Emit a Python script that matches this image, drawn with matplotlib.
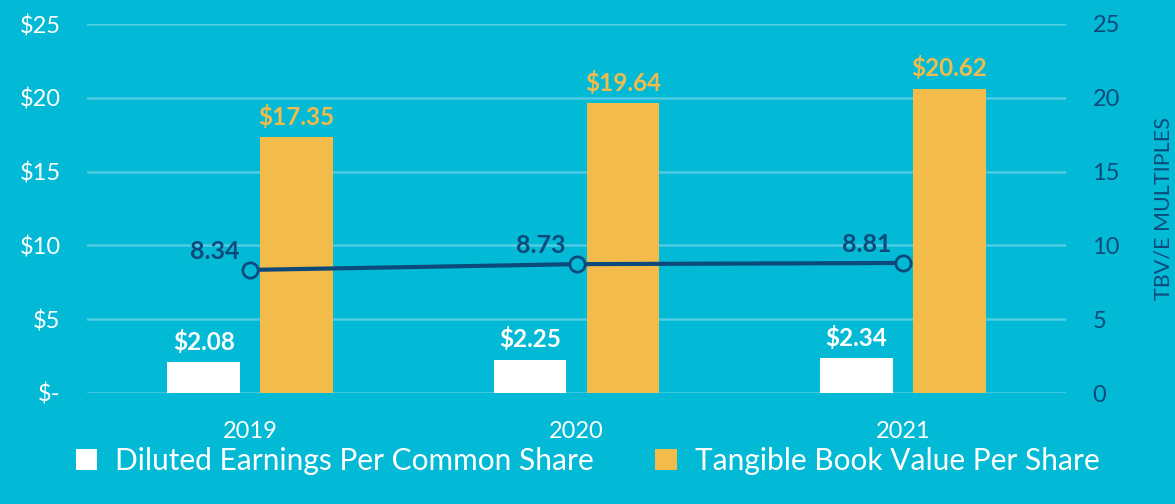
import matplotlib
matplotlib.use("Agg")
import matplotlib.pyplot as plt
from matplotlib.patches import Patch
import numpy as np

years = ["2019", "2020", "2021"]
eps = [2.08, 2.25, 2.34]
tbv = [17.35, 19.64, 20.62]
tbv_e = [8.34, 8.73, 8.81]
left_ticks = [0, 5, 10, 15, 20, 25]
left_labels = ["$-", "$5", "$10", "$15", "$20", "$25"]
right_ticks = [0, 5, 10, 15, 20, 25]

BG = "#02BAD6"
GRID = "#4FCCE3"
GOLD = "#F2BB4A"
NAVY = "#0C4A7B"
WHITE = "#FFFFFF"

plt.rcParams["font.family"] = ["Lato", "DejaVu Sans"]

fig = plt.figure(figsize=(11.75, 5.04), dpi=100, facecolor=BG)
ax = fig.add_axes([87/1175, 1-393/504, (1066-87)/1175, (393-24)/504])
ax.set_facecolor(BG)

x = np.arange(len(years))
w = 0.223
off = 0.1425
ax.bar(x - off, eps, width=w, color=WHITE, zorder=2)
ax.bar(x + off, tbv, width=w, color=GOLD, zorder=2)

for xi, v in zip(x, eps):
    ax.annotate(f"${v:.2f}", (xi - off, v), xytext=(0, 6), textcoords="offset points",
                ha="center", va="bottom", color=WHITE, fontsize=17.5, fontweight="bold")
for xi, v in zip(x, tbv):
    ax.annotate(f"${v:.2f}", (xi + off, v), xytext=(0, 6), textcoords="offset points",
                ha="center", va="bottom", color=GOLD, fontsize=17.5, fontweight="bold")

ax.set_xlim(-0.5, 2.5)
ax.set_ylim(0, 25)
ax.set_yticks(left_ticks)
ax.set_yticklabels(left_labels)
ax.set_xticks(x)
ax.set_xticklabels(years)
ax.tick_params(axis="y", length=0, labelcolor=WHITE, labelsize=17, pad=19)
ax.tick_params(axis="x", length=0, labelcolor=WHITE, labelsize=17, pad=20)
ax.grid(axis="y", color=GRID, linewidth=1.8, zorder=0)
ax.set_axisbelow(True)
for s in ax.spines.values():
    s.set_visible(False)

ax2 = ax.twinx()
ax2.set_ylim(0, 25)
ax2.set_yticks(right_ticks)
ax2.tick_params(axis="y", length=0, labelcolor=NAVY, labelsize=17, pad=19)
for s in ax2.spines.values():
    s.set_visible(False)
ax2.set_ylabel("TBV/E MULTIPLES", color=NAVY, fontsize=15.5, labelpad=24)
ax2.plot(x, tbv_e, color=NAVY, linewidth=3, marker="o", markersize=11,
         markerfacecolor=BG, markeredgecolor=NAVY, markeredgewidth=2, zorder=5)
for xi, v in zip(x, tbv_e):
    ax2.annotate(f"{v:.2f}", (xi, v), xytext=(-8, 5), textcoords="offset points",
                 ha="right", va="bottom", color=NAVY, fontsize=18, fontweight="bold")

handles = [Patch(facecolor=WHITE, edgecolor="none", label="Diluted Earnings Per Common Share"),
           Patch(facecolor=GOLD, edgecolor="none", label="Tangible Book Value Per Share")]
leg = fig.legend(handles=handles, loc="center", bbox_to_anchor=(0.5, 0.085), ncol=2,
                 frameon=False, fontsize=21.5, labelcolor=WHITE, handlelength=0.72,
                 handleheight=0.72, handletextpad=0.6, columnspacing=2.05)

fig.savefig("out.png", dpi=100, facecolor=BG)
